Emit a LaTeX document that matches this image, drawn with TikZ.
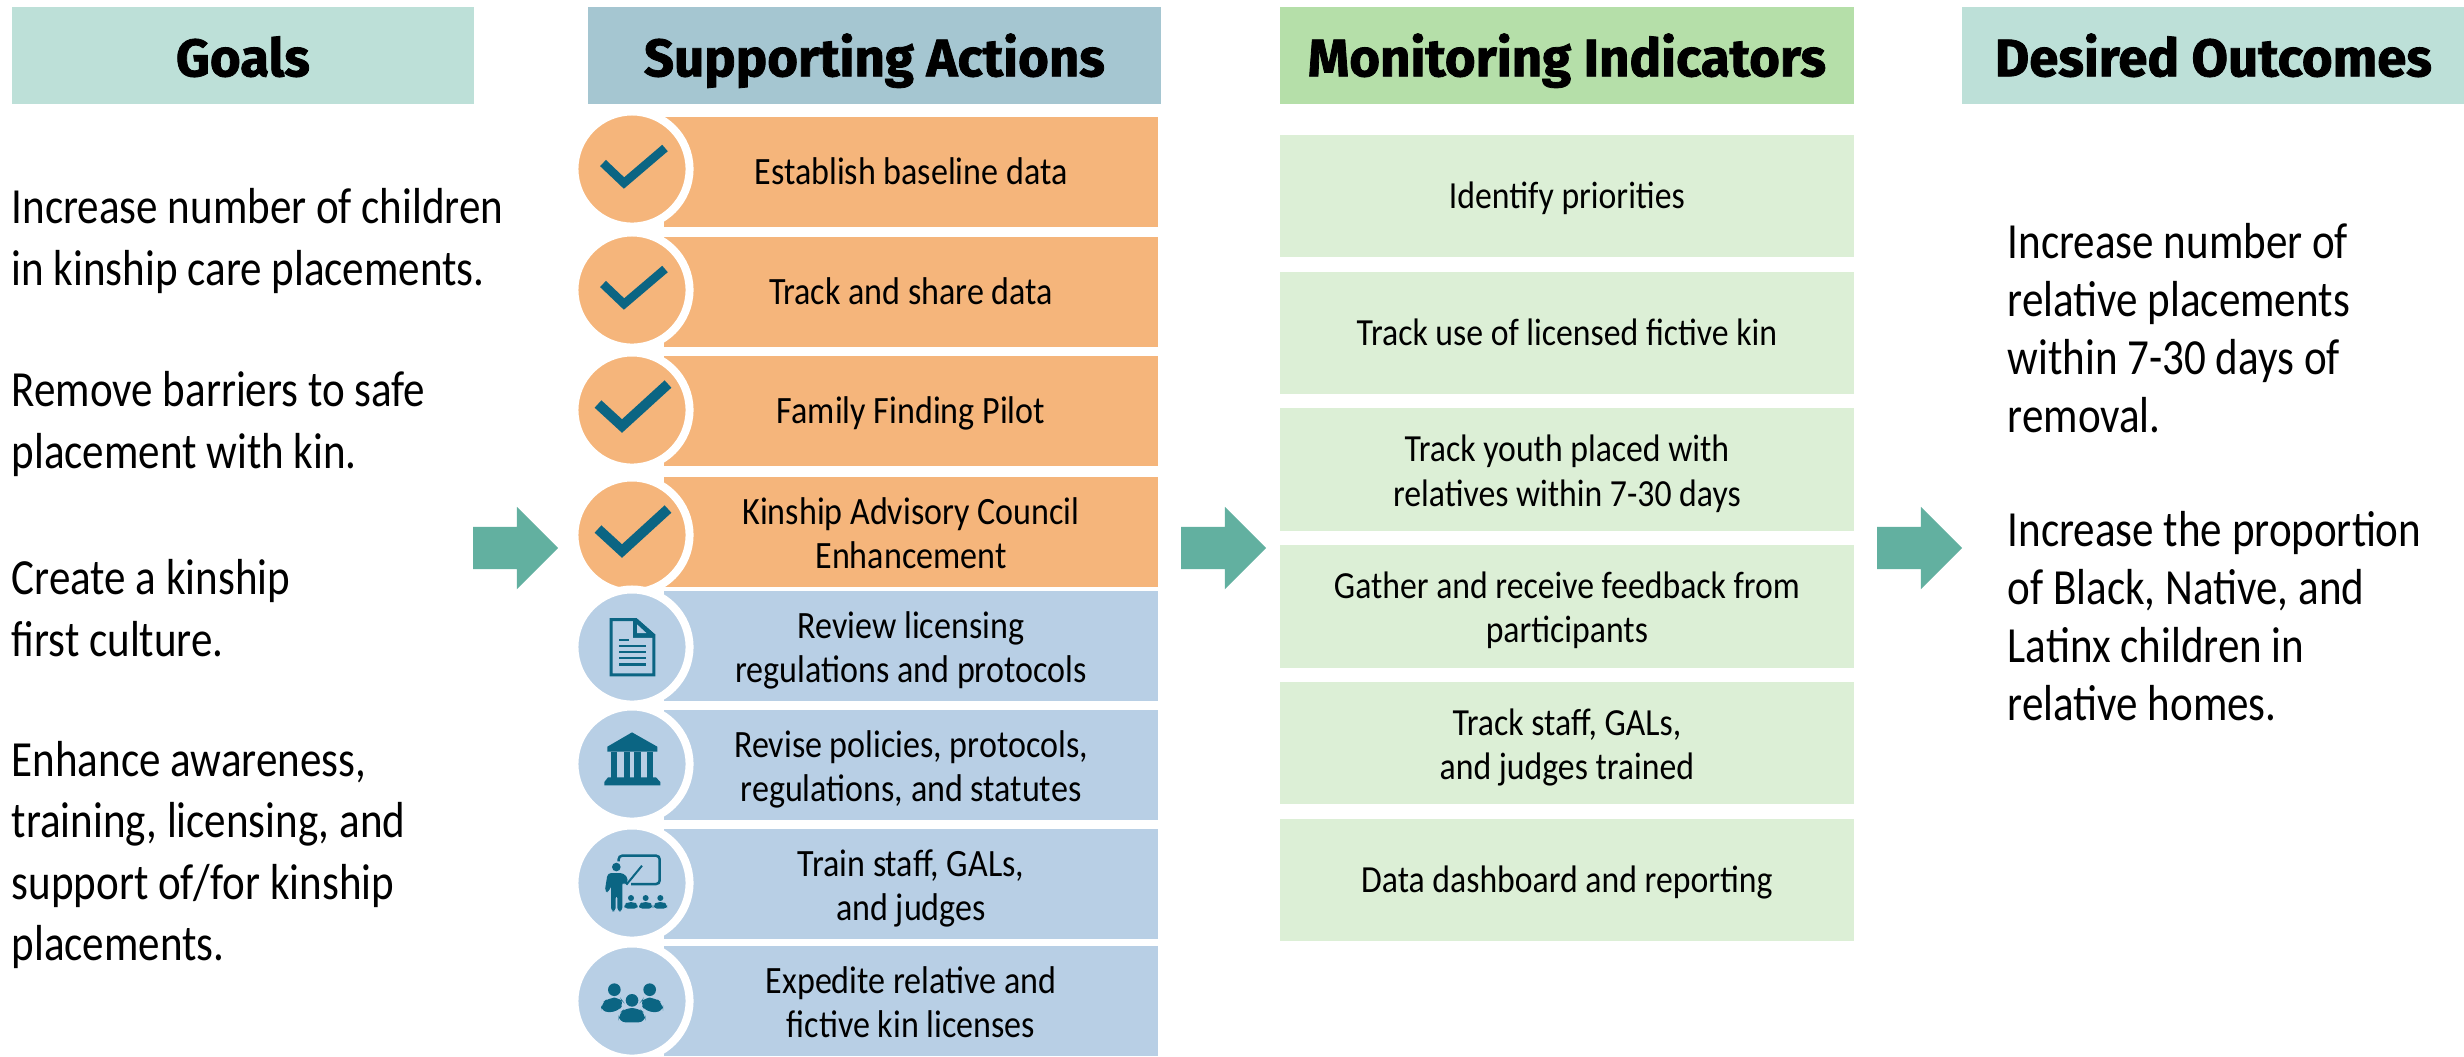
\documentclass[tikz,border=0pt]{standalone}
\usepackage{fontspec}
\setmainfont[FakeStretch=0.88]{Carlito}
\newfontfamily\bigfont[FakeStretch=0.85]{Carlito}
\newfontfamily\headfont[BoldFeatures={FakeBold=1.5}]{Fira Sans}
\usetikzlibrary{shapes.arrows,positioning}
\definecolor{headgreen}{HTML}{BDE0D8}
\definecolor{headblue}{HTML}{A5C6D1}
\definecolor{headlime}{HTML}{B5DFA9}
\definecolor{actorange}{HTML}{F5B57B}
\definecolor{actblue}{HTML}{B8CFE5}
\definecolor{monlime}{HTML}{DCEFD6}
\definecolor{arrowteal}{HTML}{62B0A0}
\definecolor{icondark}{HTML}{0B6583}
\newcommand{\firstline}{\rule{0pt}{10.7pt}}
\tikzset{head/.style={fill=#1, minimum height=0.97cm, inner sep=0pt, text height=0.51cm, text depth=0.09cm, font=\headfont\bfseries\fontsize{15}{17}\selectfont}}
\tikzset{actbox/.style={fill=#1, minimum width=4.93cm, minimum height=1.10cm, inner sep=0pt, align=center, font=\fontsize{11}{12.5}\selectfont, execute at begin node={\rule{0pt}{9.8pt}}, execute at end node={\rule[-2.5pt]{0pt}{0pt}}}}
\tikzset{monbox/.style={fill=monlime, minimum width=5.74cm, minimum height=1.225cm, inner sep=0pt, align=center, font=\fontsize{10.9}{12.6}\selectfont, execute at begin node={\rule{0pt}{9.8pt}}, execute at end node={\rule[-2.5pt]{0pt}{0pt}}}}
\tikzset{iconbg/.style={circle, fill=#1, draw=white, line width=0.08cm, minimum size=1.15cm, inner sep=0pt}}
\tikzset{bigtext/.style={anchor=west, align=left, inner sep=0pt, font=\bigfont\fontsize{14.4}{17.5}\selectfont}}
\tikzset{outtext/.style={anchor=west, align=left, inner sep=0pt, font=\bigfont\fontsize{14.4}{16.5}\selectfont}}
\tikzset{flow/.style={single arrow, fill=arrowteal, minimum height=0.85cm, inner xsep=0pt, inner ysep=0.205cm, single arrow head extend=0.2cm, single arrow tip angle=90}}
\tikzset{
  tickmark/.pic={\draw [icondark, line width=0.085cm, miter limit=10] (-29,-6) -- (-8,14) -- (33,-21);},
  bigtick/.pic={\draw [icondark, line width=0.1cm, miter limit=10] (-34,-6) -- (-10,16) -- (36,-26);},
  docicon/.pic={\begin{scope}[scale=1/3, shift={(-215,-232)}]
    \fill [icondark, even odd rule] (148,145) -- (228,145) -- (285,195) -- (285,320) -- (148,320) -- cycle
      (157,154) -- (218,154) -- (218,204) -- (276,204) -- (276,311) -- (157,311) -- cycle;
    \fill [icondark] (218,154) -- (228,145) -- (285,195) -- (276,204) -- (218,204) -- cycle;
    \fill [actblue] (230,164) -- (258,190) -- (230,190) -- cycle;
    \fill [icondark] (175,207) rectangle (205,214);
    \foreach \ypos in {225,244,262,281} {\fill [icondark] (175,\ypos) rectangle (258,\ypos+7);}
  \end{scope}},
  bankicon/.pic={\begin{scope}[scale=1/3, shift={(-215,-582)}]
    \fill [icondark] (215,487) -- (291,530) -- (291,545) -- (141,545) -- (141,530) -- cycle;
    \foreach \xpos in {152,190,222,259} {\fill [icondark] (\xpos,545) rectangle (\xpos+19,625);}
    \fill [icondark] (143,622) -- (287,622) -- (300,636) -- (300,646) -- (132,646) -- (132,636) -- cycle;
  \end{scope}},
  teachicon/.pic={\begin{scope}[scale=1/3, shift={(-215,-940)}]
    \draw [icondark, line width=0.025cm, rounded corners=1pt] (175,875) -- (175,858) -- (298,858) -- (298,943) -- (212,943);
    \draw [icondark, line width=0.02cm] (198,945) -- (245,888);
    \fill [icondark] (168,892) circle [radius=13];
    \fill [icondark, rounded corners=1pt] (142,910) -- (190,910) -- (205,930) -- (195,948) -- (186,935) -- (186,1025) -- (171,1025) -- (171,975) -- (166,975) -- (166,1025) -- (152,1025) -- (152,945) -- (146,968) -- (133,966) -- cycle;
    \foreach \xpos in {212,256,300} {
      \fill [icondark] (\xpos,985) circle [radius=9];
      \fill [icondark, rounded corners=1pt] (\xpos-20,1017) -- (\xpos-20,1005) -- (\xpos-10,997) -- (\xpos+10,997) -- (\xpos+20,1005) -- (\xpos+20,1017) -- cycle;
    }
  \end{scope}},
  peopleicon/.pic={\begin{scope}[scale=1/3, shift={(-215,-1292)}]
    \foreach \xpos/\ypos in {162/1258,268/1258,215/1290} {\fill [icondark] (\xpos,\ypos) circle [radius=19];}
    \fill [icondark, rounded corners=2pt] (122,1325) -- (122,1300) -- (145,1282) -- (180,1282) -- (192,1298) -- (172,1325) -- cycle;
    \fill [icondark, rounded corners=2pt] (308,1325) -- (308,1300) -- (285,1282) -- (250,1282) -- (238,1298) -- (258,1325) -- cycle;
    \fill [icondark, rounded corners=2pt] (175,1356) -- (175,1330) -- (195,1313) -- (235,1313) -- (255,1330) -- (255,1356) -- cycle;
  \end{scope}}
}
\begin{document}
\begin{tikzpicture}[x=0.01cm, y=-0.01cm]
    \useasboundingbox (0,0) rectangle (2464,1056);
    % Headers
    \node [head=headgreen, minimum width=4.62cm, anchor=north west] (goalhead) at (11,6)   {Goals};
    \node [head=headblue,  minimum width=5.73cm, anchor=north west] (acthead)  at (587,6)  {Supporting Actions};
    \node [head=headlime,  minimum width=5.74cm, anchor=north west] (monhead)  at (1279,6) {Monitoring Indicators};
    \node [head=headgreen, minimum width=5.03cm, anchor=north west] (outhead)  at (1961,6) {Desired Outcomes};

    % Goals
    \node [bigtext] (goal1) at (11,241) {Increase number of children\\in kinship care placements.};
    \node [bigtext] (goal2) at (11,424) {Remove barriers to safe\\placement with kin.};
    \node [bigtext] (goal3) at (11,608) {Create a kinship\\first culture.};
    \node [bigtext] (goal4) at (11,855) {Enhance awareness,\\training, licensing, and\\support of/for kinship\\placements.};

    % Actions
    \node [actbox=actorange] (act1) at (911,172)  {Establish baseline data};
    \node [actbox=actorange] (act2) at (911,292)  {Track and share data};
    \node [actbox=actorange] (act3) at (911,411)  {Family Finding Pilot};
    \node [actbox=actorange] (act4) at (911,532)  {\firstline Kinship Advisory Council\\Enhancement};
    \node [actbox=actblue]   (act5) at (911,646)  {\firstline Review licensing\\regulations and protocols};
    \node [actbox=actblue]   (act6) at (911,765)  {\firstline Revise policies, protocols,\\regulations, and statutes};
    \node [actbox=actblue]   (act7) at (911,884)  {\firstline Train staff, GALs,\\and judges};
    \node [actbox=actblue]   (act8) at (911,1001) {\firstline Expedite relative and\\fictive kin licenses};

    % Icons
    \node [iconbg=actorange] (circ1) at (632,169)  {};
    \node [iconbg=actorange] (circ2) at (632,290)  {};
    \node [iconbg=actorange] (circ3) at (632,410)  {};
    \node [iconbg=actorange] (circ4) at (632,535)  {};
    \node [iconbg=actblue]   (circ5) at (632,647)  {};
    \node [iconbg=actblue]   (circ6) at (632,764)  {};
    \node [iconbg=actblue]   (circ7) at (632,883)  {};
    \node [iconbg=actblue]   (circ8) at (632,1001) {};
    \pic at (circ1) {tickmark};
    \pic at (circ2) {tickmark};
    \pic at (circ3) {bigtick};
    \pic at (circ4) {bigtick};
    \pic at (circ5) {docicon};
    \pic at (circ6) {bankicon};
    \pic at (circ7) {teachicon};
    \pic at (circ8) {peopleicon};

    % Indicators
    \node [monbox, anchor=north west]     (mon1) at (1279,134) {Identify priorities};
    \node [monbox, below=0.128cm of mon1] (mon2) {Track use of licensed fictive kin};
    \node [monbox, below=0.128cm of mon2] (mon3) {\firstline Track youth placed with\\relatives within 7-30 days};
    \node [monbox, below=0.128cm of mon3] (mon4) {\firstline Gather and receive feedback from\\participants};
    \node [monbox, below=0.128cm of mon4] (mon5) {\firstline Track staff, GALs,\\and judges trained};
    \node [monbox, below=0.128cm of mon5] (mon6) {Data dashboard and reporting};

    % Outcomes
    \node [outtext] (out1) at (2007,328) {Increase number of\\relative placements\\within 7-30 days of\\removal.};
    \node [outtext] (out2) at (2007,616) {Increase the proportion\\of Black, Native, and\\Latinx children in\\relative homes.};

    % Arrows
    \node [flow] (flow1) at (505,548)  {};
    \node [flow] (flow2) at (1213,548) {};
    \node [flow] (flow3) at (1909,548) {};
\end{tikzpicture}
\end{document}
